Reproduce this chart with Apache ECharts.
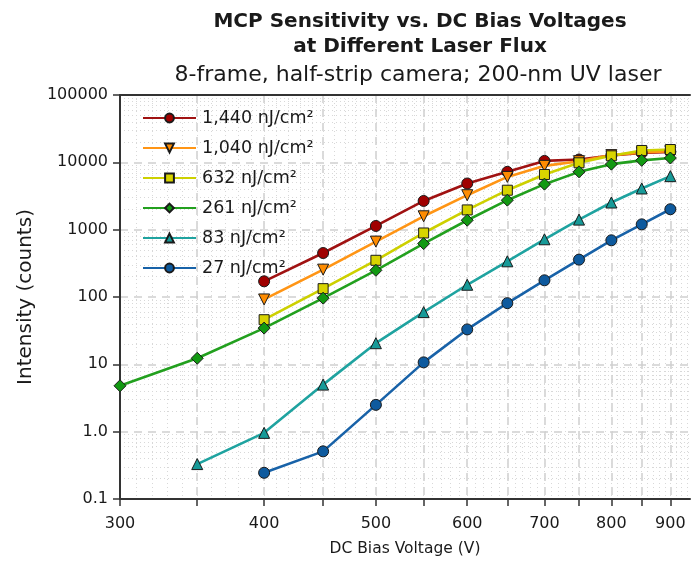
<!DOCTYPE html>
<html>
<head>
<meta charset="utf-8">
<script src="https://cdn.jsdelivr.net/npm/echarts@6/dist/echarts.min.js"></script>
<style>
html,body{margin:0;padding:0;background:#fff;}
#chart{width:691px;height:572px;}
</style>
</head>
<body>
<div id="chart"></div>
<script>
// ---- data ----
var voltages = [300, 350, 400, 450, 500, 550, 600, 650, 700, 750, 800, 850, 900];
var seriesNames = ['1,440 nJ/cm²', '1,040 nJ/cm²', '632 nJ/cm²', '261 nJ/cm²', '83 nJ/cm²', '27 nJ/cm²'];
var flux1440 = [null, null, 171, 450, 1135, 2670, 4850, 7220, 10500, 11000, 12600, 13800, 14300];
var flux1040 = [null, null, 92, 255, 665, 1580, 3250, 6080, 8870, 10400, 12800, 14000, 14600];
var flux632  = [null, null, 46, 133, 351, 893, 1965, 3855, 6600, 9840, 12500, 15000, 15500];
var flux261  = [4.8, 12.3, 34.5, 96, 249, 621, 1380, 2740, 4740, 7220, 9400, 10700, 11600];
var flux83   = [null, 0.33, 0.96, 5.0, 20.6, 59.6, 152, 339, 720, 1410, 2530, 4090, 6230];
var flux27   = [null, null, 0.245, 0.51, 2.5, 10.7, 33, 81, 177, 359, 695, 1200, 2010];

var xLabelValues = [300, 400, 500, 600, 700, 800, 900];
var xTickValues = [300, 350, 400, 450, 500, 550, 600, 650, 700, 750, 800, 850, 900];
var yTickValues = [0.1, 1, 10, 100, 1000, 10000, 100000];
var yTickLabels = ['0.1', '1.0', '10', '100', '1000', '10000', '100000'];

// minor grid positions (axis furniture)
var xMinor = [];
for (var v = 300; v <= 930; v += 10) xMinor.push(v);
var yMinor = [];
[0.1, 1, 10, 100, 1000, 10000].forEach(function (d) {
  for (var k = 2; k <= 9; k++) yMinor.push(+(d * k).toPrecision(6));
});

var colors = {
  line: ['#A01212', '#FF9515', '#CDD000', '#22A01E', '#1FA3A0', '#1862A8'],
  fill: ['#A00000', '#FF8C00', '#D8D400', '#129912', '#179A98', '#0E5A9E']
};
var symbols = ['circle', 'triangle', 'rect', 'diamond', 'triangle', 'circle'];
var rotates = [0, 180, 0, 0, 0, 0];
var symSizes = [11, 11, 10, 12, 11, 11];
var allData = [flux1440, flux1040, flux632, flux261, flux83, flux27];

var FONT = 'DejaVu Sans';
var TXT = '#1a1a1a';

function pairs(arr) {
  var out = [];
  for (var i = 0; i < voltages.length; i++) {
    if (arr[i] != null) out.push([voltages[i], arr[i]]);
  }
  return out;
}

var series = allData.map(function (arr, i) {
  return {
    name: seriesNames[i],
    type: 'line',
    xAxisIndex: 0,
    yAxisIndex: 0,
    data: pairs(arr),
    symbol: symbols[i],
    symbolRotate: rotates[i],
    symbolSize: symSizes[i],
    showAllSymbol: true,
    lineStyle: { color: colors.line[i], width: 2.6 },
    itemStyle: { color: colors.fill[i], borderColor: '#1a1a1a', borderWidth: 1 },
    emphasis: { disabled: true },
    animation: false
  };
});

var chart = echarts.init(document.getElementById('chart'), null, { renderer: 'canvas' });
chart.setOption({
  backgroundColor: '#ffffff',
  animation: false,
  textStyle: { fontFamily: FONT },
  title: [
    {
      text: 'MCP Sensitivity vs. DC Bias Voltages\nat Different Laser Flux',
      left: 415, top: 4, textAlign: 'center',
      textStyle: { fontFamily: FONT, fontSize: 20, fontWeight: 'bold', color: TXT, lineHeight: 25 }
    },
    {
      text: '8-frame, half-strip camera; 200-nm UV laser',
      left: 413, top: 59, textAlign: 'center',
      textStyle: { fontFamily: FONT, fontSize: 22, fontWeight: 'normal', color: TXT }
    }
  ],
  legend: {
    orient: 'vertical',
    left: 137, top: 104,
    itemWidth: 53, itemHeight: 11, itemGap: 12,
    textStyle: { fontFamily: FONT, fontSize: 17.5, lineHeight: 18, color: TXT, padding: [0, 0, 0, 1] },
    data: seriesNames
  },
  grid: { left: 120, right: 1, top: 95, bottom: 73, containLabel: false },
  xAxis: [
    {
      type: 'log', logBase: 10, min: 300, max: 936,
      name: 'DC Bias Voltage (V)', nameLocation: 'middle', nameGap: 42,
      nameTextStyle: { fontFamily: FONT, fontSize: 15.5, color: TXT },
      axisLine: { show: true, onZero: false, lineStyle: { color: '#333', width: 2 } },
      axisTick: { show: true, customValues: xTickValues, length: 7, lineStyle: { color: '#333', width: 1.5 } },
      axisLabel: { show: true, customValues: xLabelValues, margin: 17, fontFamily: FONT, fontSize: 16, color: TXT,
        formatter: function (v) { return String(Math.round(v)); } },
      splitLine: { show: true, lineStyle: { color: '#cfcfcf', width: 1.5, type: [8, 6] } },
      minorTick: { show: false }, minorSplitLine: { show: false }
    },
    {
      type: 'log', logBase: 10, min: 300, max: 936, position: 'top',
      axisLine: { show: true, onZero: false, lineStyle: { color: '#333', width: 2 } },
      axisTick: { show: false, customValues: xMinor },
      axisLabel: { show: false },
      splitLine: { show: true, lineStyle: { color: '#d8d8d8', width: 1, type: [1, 3] } }
    }
  ],
  yAxis: [
    {
      type: 'log', logBase: 10, min: 0.1, max: 100000,
      name: 'Intensity (counts)', nameLocation: 'middle', nameGap: 82,
      nameTextStyle: { fontFamily: FONT, fontSize: 20, color: TXT },
      axisLine: { show: true, onZero: false, lineStyle: { color: '#333', width: 2 } },
      axisTick: { show: true, customValues: yTickValues, length: 7, lineStyle: { color: '#333', width: 1.5 } },
      axisLabel: { show: true, customValues: yTickValues, margin: 12, fontFamily: FONT, fontSize: 16, color: TXT,
        formatter: function (v) {
          for (var i = 0; i < yTickValues.length; i++) {
            if (Math.abs(Math.log10(v) - Math.log10(yTickValues[i])) < 1e-6) return yTickLabels[i];
          }
          return '';
        } },
      splitLine: { show: true, lineStyle: { color: '#cfcfcf', width: 1.5, type: [8, 6] } }
    },
    {
      type: 'log', logBase: 10, min: 0.1, max: 100000, position: 'right',
      axisLine: { show: false },
      axisTick: { show: false, customValues: yMinor },
      axisLabel: { show: false },
      splitLine: { show: true, lineStyle: { color: '#d8d8d8', width: 1, type: [1, 3] } }
    }
  ],
  series: series
});
</script>
</body>
</html>
